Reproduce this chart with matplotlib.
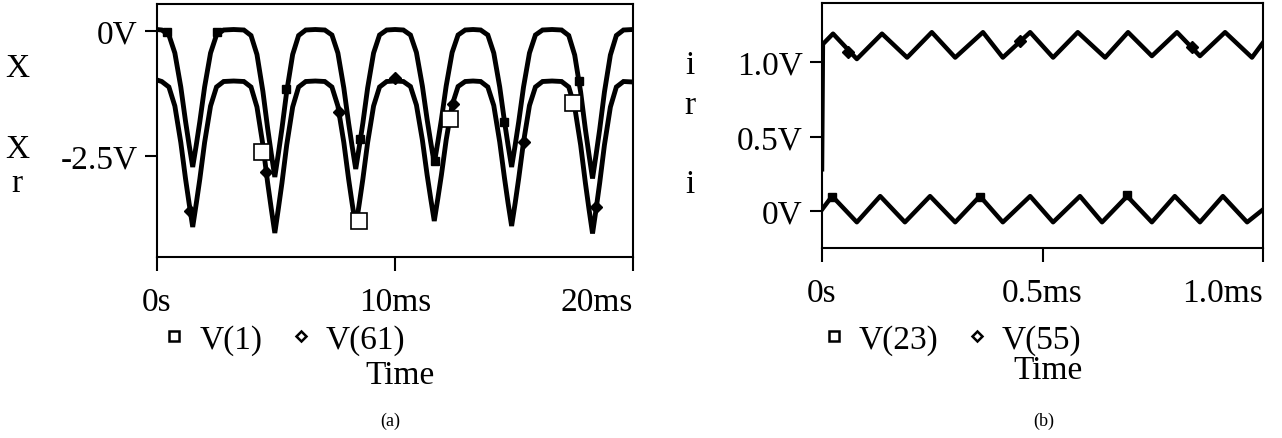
import matplotlib
matplotlib.use("Agg")
import matplotlib.pyplot as plt
from matplotlib.lines import Line2D

# ---------------- panel (a): V(1) and V(61) over 0..20 ms ----------------
t_a = [0, 0.2, 0.5, 0.75, 1.0, 1.2, 1.35, 1.5, 1.65, 1.8, 2.0, 2.25, 2.5, 2.8,
       3.22, 3.65, 3.95, 4.2, 4.45, 4.65, 4.8, 4.95, 5.1, 5.25, 5.45, 5.7, 5.95, 6.25,
       6.65, 7.05, 7.35, 7.6, 7.85, 8.05, 8.2, 8.35, 8.5, 8.65, 8.85, 9.1, 9.35, 9.65,
       10.0, 10.35, 10.65, 10.9, 11.15, 11.35, 11.5, 11.65, 11.8, 11.95, 12.15, 12.4, 12.65, 12.95,
       13.28, 13.6, 13.9, 14.15, 14.4, 14.6, 14.75, 14.9, 15.05, 15.2, 15.4, 15.65, 15.9, 16.2,
       16.6, 17.0, 17.3, 17.55, 17.8, 18.0, 18.15, 18.3, 18.45, 18.6, 18.8, 19.05, 19.3, 19.6,
       20.0]
v1 = [0.03, 0.02, -0.08, -0.44, -1.12, -1.81, -2.28, -2.72, -2.28, -1.81, -1.12, -0.44, -0.08, 0.02,
      0.03, 0.02, -0.09, -0.47, -1.21, -1.95, -2.45, -2.92, -2.45, -1.95, -1.21, -0.47, -0.09, 0.02,
      0.03, 0.02, -0.08, -0.44, -1.14, -1.84, -2.31, -2.76, -2.31, -1.84, -1.14, -0.44, -0.08, 0.02,
      0.03, 0.02, -0.08, -0.43, -1.10, -1.77, -2.22, -2.65, -2.22, -1.77, -1.10, -0.43, -0.08, 0.02,
      0.03, 0.02, -0.08, -0.44, -1.12, -1.81, -2.28, -2.72, -2.28, -1.81, -1.12, -0.44, -0.08, 0.02,
      0.03, 0.02, -0.09, -0.48, -1.22, -1.97, -2.47, -2.95, -2.47, -1.97, -1.22, -0.48, -0.09, 0.02,
      0.03]
v61 = [-0.98, -1.01, -1.12, -1.50, -2.23, -2.96, -3.45, -3.92, -3.45, -2.96, -2.23, -1.50, -1.12, -1.01,
       -1.0, -1.01, -1.12, -1.52, -2.28, -3.04, -3.55, -4.04, -3.55, -3.04, -2.28, -1.52, -1.12, -1.01,
       -1.0, -1.01, -1.12, -1.50, -2.23, -2.96, -3.45, -3.92, -3.45, -2.96, -2.23, -1.50, -1.12, -1.01,
       -1.0, -1.01, -1.11, -1.48, -2.18, -2.88, -3.35, -3.80, -3.35, -2.88, -2.18, -1.48, -1.11, -1.01,
       -1.0, -1.01, -1.12, -1.49, -2.22, -2.94, -3.44, -3.90, -3.44, -2.94, -2.22, -1.49, -1.12, -1.01,
       -1.0, -1.01, -1.12, -1.52, -2.28, -3.04, -3.56, -4.05, -3.56, -3.04, -2.28, -1.52, -1.12, -1.01,
       -1.02]

# marker positions
sq_small_t = [0.42, 2.52, 5.44, 8.55, 11.66, 14.6, 17.73]
sq_small_v = [-0.02, -0.02, -1.16, -2.16, -2.6, -1.82, -1.0]
sq_big_t = [4.40, 8.47, 12.33, 17.48]
sq_big_v = [-2.42, -3.8, -1.76, -1.44]
dia_a_t = [1.40, 4.59, 7.64, 10.02, 12.43, 15.4, 18.46]
dia_a_v = [-3.6, -2.82, -1.62, -0.94, -1.46, -2.22, -3.52]

xticks_a = [0, 10, 20]
xlabels_a = ["0s", "10ms", "20ms"]
yticks_a = [0, -2.5]
ylabels_a = ["0V", "-2.5V"]

# ---------------- panel (b): V(23) and V(55) over 0..1 ms ----------------
t_55 = [0, 0.002, 0.025, 0.079, 0.136, 0.193, 0.249, 0.302, 0.365, 0.410, 0.472,
        0.524, 0.580, 0.642, 0.694, 0.748, 0.805, 0.857, 0.914, 0.975, 1.0]
v55 = [0.28, 1.12, 1.19, 1.02, 1.19, 1.03, 1.20, 1.03, 1.20, 1.03, 1.20,
       1.03, 1.20, 1.03, 1.20, 1.04, 1.20, 1.04, 1.20, 1.03, 1.13]
t_23 = [0, 0.023, 0.079, 0.132, 0.188, 0.245, 0.302, 0.358, 0.410, 0.472,
        0.524, 0.585, 0.635, 0.692, 0.748, 0.800, 0.857, 0.909, 0.964, 1.0]
v23 = [0.01, 0.10, -0.075, 0.10, -0.075, 0.10, -0.075, 0.10, -0.075, 0.10,
       -0.075, 0.10, -0.075, 0.10, -0.075, 0.10, -0.075, 0.10, -0.075, 0.01]

dia_b_t = [0.059, 0.449, 0.839]
dia_b_v = [1.07, 1.14, 1.10]
sq_b_t = [0.023, 0.358, 0.692]
sq_b_v = [0.094, 0.094, 0.11]

xticks_b = [0, 0.5, 1.0]
xlabels_b = ["0s", "0.5ms", "1.0ms"]
yticks_b = [1.0, 0.5, 0]
ylabels_b = ["1.0V", "0.5V", "0V"]

FONT = "Liberation Serif"
FS = 24
W, H = 1282, 439

plt.rcParams['font.family'] = [FONT, 'DejaVu Sans']

fig = plt.figure(figsize=(W / 100, H / 100), dpi=100)


def px_axes(x0, x1, y0, y1):
    return fig.add_axes([x0 / W, 1 - y1 / H, (x1 - x0) / W, (y1 - y0) / H])


def style(ax, xt, xl, yt, yl):
    for s in ax.spines.values():
        s.set_linewidth(1.5)
    ax.set_xticks(xt)
    ax.set_xticklabels(xl, fontsize=FS)
    ax.set_yticks(yt)
    ax.set_yticklabels(yl, fontsize=FS)
    ax.tick_params(axis='y', direction='out', length=9, width=1.5, pad=5)
    ax.tick_params(axis='x', direction='out', length=10, width=1.5, pad=11)
    ax.get_xticklabels()[-1].set_ha('right')


LW = 3.5

ax1 = px_axes(157, 633, 5, 258)
ax1.plot(t_a, v1, color='black', lw=LW, solid_joinstyle='miter')
ax1.plot(t_a, v61, color='black', lw=LW, solid_joinstyle='miter')
ax1.plot(sq_small_t, sq_small_v, ls='none', marker='s', ms=6, color='black')
ax1.plot(sq_big_t, sq_big_v, ls='none', marker='s', ms=11, mfc='white', mec='black', mew=1.2)
ax1.plot(dia_a_t, dia_a_v, ls='none', marker='D', ms=6, color='black')
ax1.set_xlim(0, 20)
ax1.set_ylim(-4.52, 0.54)
style(ax1, xticks_a, xlabels_a, yticks_a, ylabels_a)

ax2 = px_axes(822, 1263, 4, 249)
ax2.plot(t_55, v55, color='black', lw=3.2)
ax2.plot(t_23, v23, color='black', lw=3.2)
ax2.plot(dia_b_t, dia_b_v, ls='none', marker='D', ms=6, color='black')
ax2.plot(sq_b_t, sq_b_v, ls='none', marker='s', ms=6, color='black')
ax2.set_xlim(0, 1.0)
ax2.set_ylim(-0.248, 1.396)
style(ax2, xticks_b, xlabels_b, yticks_b, ylabels_b)

# side letters
for x, y, s in [(17, 69, 'X'), (17, 150, 'X'), (17, 184, 'r'),
                (690, 66, 'i'), (690, 106, 'r'), (690, 185, 'i')]:
    fig.text(x / W, 1 - y / H, s, fontsize=FS, ha='center', va='center')

# legends
sq_h = Line2D([], [], ls='none', marker='s', ms=7, mfc='white', mec='black', mew=1.8)
di_h = Line2D([], [], ls='none', marker='D', ms=5, mfc='white', mec='black', mew=1.8)
for cx, cy, labs in [(284, 341, ["V(1)", "V(61)"]), (952, 341, ["V(23)", "V(55)"])]:
    fig.legend([sq_h, di_h], labs, loc='center', bbox_to_anchor=(cx / W, 1 - cy / H),
               ncol=2, frameon=False, fontsize=FS, handlelength=0.7,
               handletextpad=0.4, columnspacing=0.8, borderpad=0, borderaxespad=0)

fig.text(400 / W, 1 - 376 / H, "Time", fontsize=FS, ha='center', va='center')
fig.text(1048 / W, 1 - 371 / H, "Time", fontsize=FS, ha='center', va='center')
fig.text(390 / W, 1 - 421 / H, "(a)", fontsize=13, ha='center', va='center',
         family='Liberation Serif')
fig.text(1044 / W, 1 - 421 / H, "(b)", fontsize=13, ha='center', va='center',
         family='Liberation Serif')

fig.savefig("out.png", dpi=100)
